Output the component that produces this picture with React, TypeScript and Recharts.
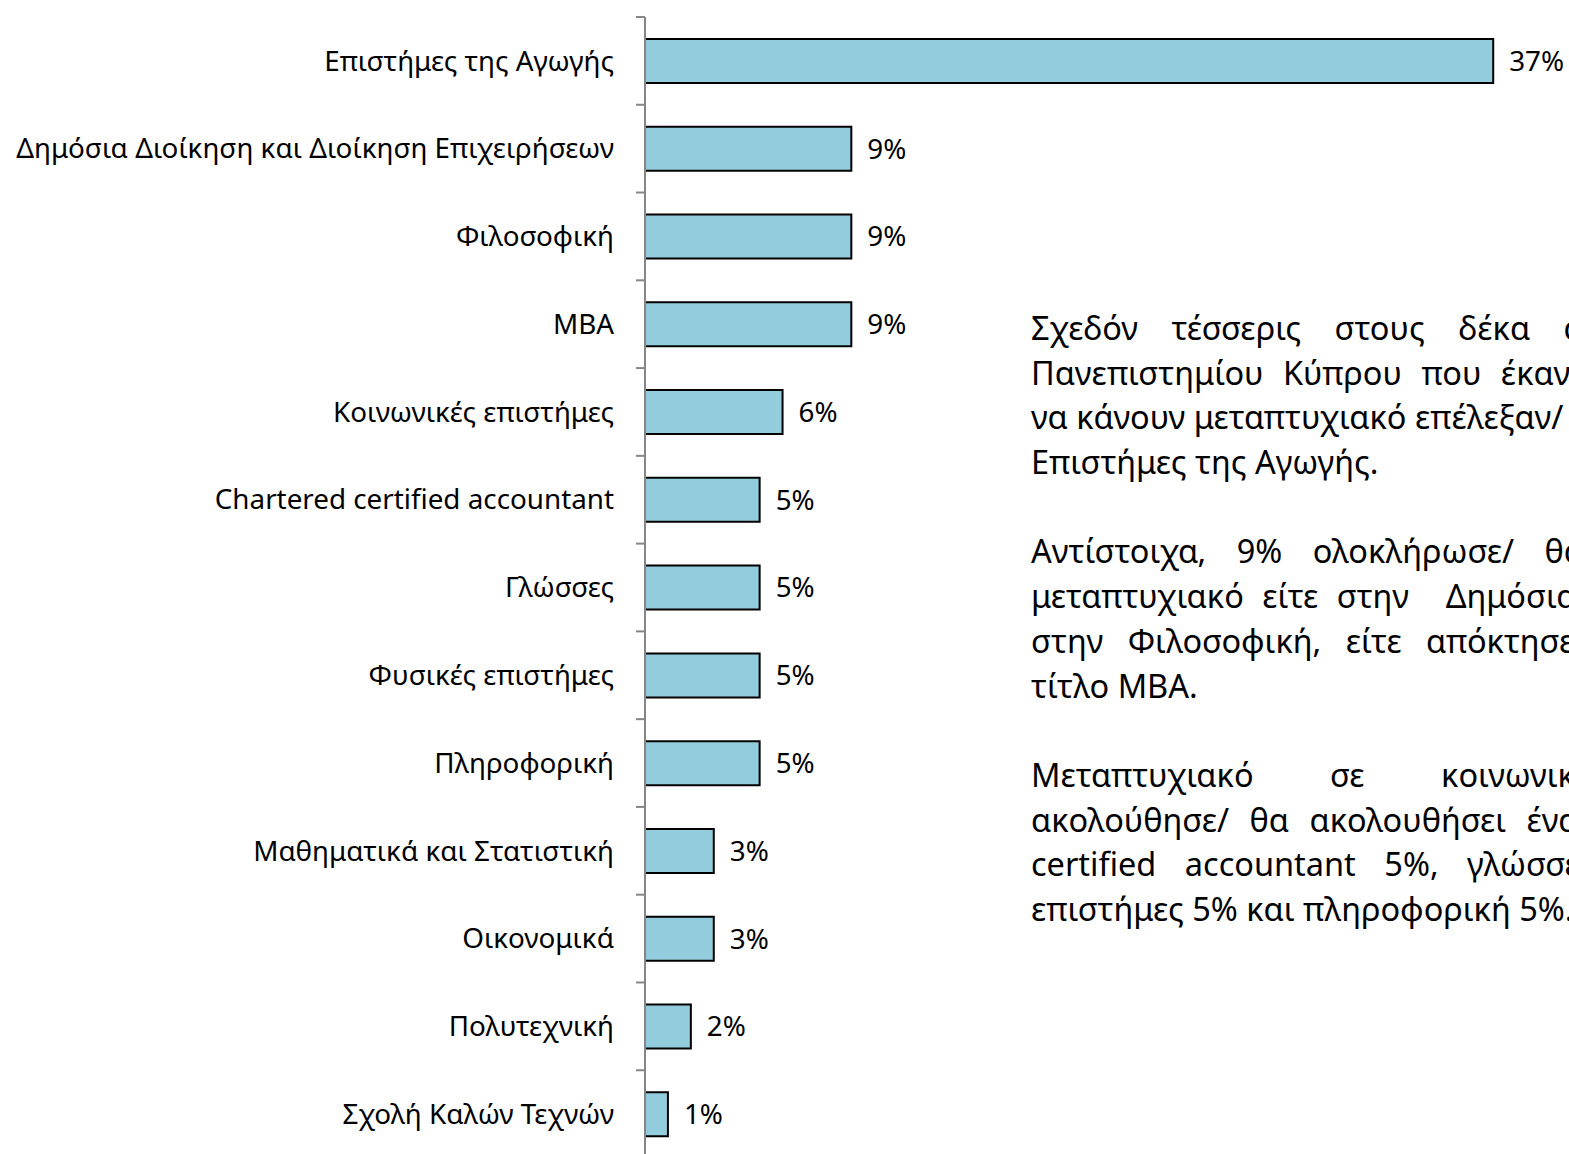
import React from "react";
import {Bar, BarChart, LabelList, XAxis, YAxis} from "recharts";

const categories = [
  "Επιστήμες της Αγωγής",
  "Δημόσια Διοίκηση και Διοίκηση Επιχειρήσεων",
  "Φιλοσοφική",
  "MBA",
  "Κοινωνικές επιστήμες",
  "Chartered certified accountant",
  "Γλώσσες",
  "Φυσικές επιστήμες",
  "Πληροφορική",
  "Μαθηματικά και Στατιστική",
  "Οικονομικά",
  "Πολυτεχνική",
  "Σχολή Καλών Τεχνών",
];
const percentages = [37, 9, 9, 9, 6, 5, 5, 5, 5, 3, 3, 2, 1];

const paragraphs = [
  [
    "Σχεδόν τέσσερις στους δέκα απόφοιτους",
    "Πανεπιστημίου Κύπρου που έκαναν/ πρόκειται",
    "να κάνουν μεταπτυχιακό επέλεξαν/ θα επιλέξουν",
    "Επιστήμες της Αγωγής.",
  ],
  [
    "Αντίστοιχα, 9% ολοκλήρωσε/ θα ολοκληρώσει",
    "μεταπτυχιακό είτε στην\u00a0 Δημόσια Διοίκηση",
    "στην Φιλοσοφική, είτε απόκτησε/ θα αποκτήσει",
    "τίτλο MBA.",
  ],
  [
    "Μεταπτυχιακό σε κοινωνικές επιστήμες",
    "ακολούθησε/ θα ακολουθήσει ένα",
    "certified accountant 5%, γλώσσες 5%, φυσικές",
    "επιστήμες 5% και πληροφορική 5%.",
  ],
];

const data = categories.map((name, i) => ({name, value: percentages[i]}));

const FONT = "'Noto Sans', 'Open Sans', sans-serif";
const WIDTH = 1569;
const HEIGHT = 1160;
const AXIS_X = 645;
const TOP = 17;
const BOTTOM = 2;
const BAND = (HEIGHT - TOP - BOTTOM) / categories.length;

const CategoryTick = (props: any) => {
  const {y, payload, index} = props;
  const last = index === categories.length - 1;
  return (
    <g>
      <line x1={AXIS_X - 9} x2={AXIS_X} y1={y - BAND / 2} y2={y - BAND / 2} stroke="#868686" strokeWidth={2} />
      {last && <line x1={AXIS_X - 9} x2={AXIS_X} y1={y + BAND / 2} y2={y + BAND / 2} stroke="#868686" strokeWidth={2} />}
      <text x={AXIS_X - 31} y={y} dy="0.35em" textAnchor="end" fontFamily={FONT} fontSize={27.8} fill="#000">
        {payload.value}
      </text>
    </g>
  );
};

// extra word spacing for the justified lines of the text block
const wordGaps = [
  [25, 11, 0, 0],
  [22, 10, 16, 0],
  [68, 12, 20, 0],
];

const App = () => (
  <div style={{position: "absolute", left: 0, top: 0, width: WIDTH, height: 1154, overflow: "hidden", background: "#fff"}}>
    <BarChart
      width={WIDTH}
      height={HEIGHT}
      data={data}
      layout="vertical"
      margin={{top: TOP, right: 7, bottom: BOTTOM, left: 0}}
      barSize={44}
    >
      <XAxis type="number" domain={[0, 40]} hide />
      <YAxis
        type="category"
        dataKey="name"
        width={AXIS_X}
        axisLine={{stroke: "#868686", strokeWidth: 2}}
        tickLine={false}
        tick={<CategoryTick />}
        interval={0}
      />
      <Bar dataKey="value" fill="#93CDDD" stroke="#000" strokeWidth={2} isAnimationActive={false}>
        <LabelList
          dataKey="value"
          position="right"
          offset={16}
          formatter={(v: any) => `${v}%`}
          style={{fontFamily: FONT, fontSize: 27.8, fill: "#000"}}
        />
      </Bar>
    </BarChart>
    <div style={{position: "absolute", left: 1031, top: 306, fontFamily: FONT, fontSize: 32.5, color: "#000", lineHeight: "44.7px"}}>
      {paragraphs.map((lines, p) => (
        <div key={p} style={{marginBottom: p < paragraphs.length - 1 ? 44.7 : 0}}>
          {lines.map((line, i) => (
            <div key={i} style={{whiteSpace: "nowrap", wordSpacing: wordGaps[p][i], height: 44.7}}>
              {line}
            </div>
          ))}
        </div>
      ))}
    </div>
  </div>
);

export default App;
